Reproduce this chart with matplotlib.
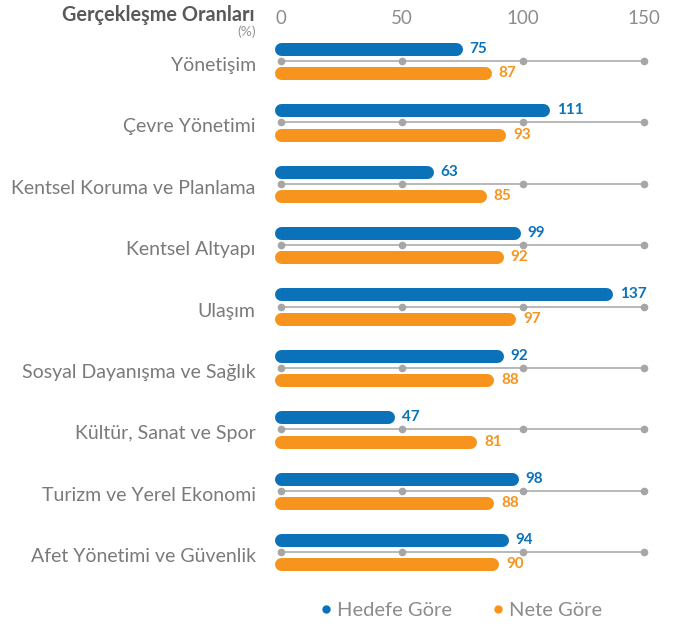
import matplotlib
matplotlib.use("Agg")
from matplotlib import pyplot as plt
from matplotlib.lines import Line2D
import numpy as np

# data
categories = [
    "Yönetişim",
    "Çevre Yönetimi",
    "Kentsel Koruma ve Planlama",
    "Kentsel Altyapı",
    "Ulaşım",
    "Sosyal Dayanışma ve Sağlık",
    "Kültür, Sanat ve Spor",
    "Turizm ve Yerel Ekonomi",
    "Afet Yönetimi ve Güvenlik",
]
hedefe_gore = [75, 111, 63, 99, 137, 92, 47, 98, 94]
nete_gore = [87, 93, 85, 92, 97, 88, 81, 88, 90]
ticks = [0, 50, 100, 150]

BLUE = "#0B72BA"
ORANGE = "#F7941D"
GRID = "#B3B3B3"
TEXT = "#7A7A7A"

plt.rcParams["font.family"] = ["Lato", "DejaVu Sans"]

W, H = 674, 626
fig = plt.figure(figsize=(W / 100, H / 100), dpi=100)
# axes placed so that 0..150 spans the plotting band
x0_px, x150_px = 280.7, 644
ax_top, ax_bot = 30, 590
ax = fig.add_axes([x0_px / W, 1 - ax_bot / H, (x150_px - x0_px) / W, (ax_bot - ax_top) / H])
step = 61.4
ax.set_xlim(0, 150)
ax.set_ylim((ax_bot - 61) / step, -(61 - ax_top) / step)
for s in ax.spines.values():
    s.set_visible(False)

y = np.arange(len(categories))
off = 0.2
bar_px = 13
lw = bar_px * 72 / 100  # bar thickness in points
# half the thickness in data units, so the rounded end stops at the value
cap = (bar_px / 2) / ((x150_px - x0_px) / 150)

# grey guide line with dots under each pair of bars
for yi in y:
    ax.plot([0, 150], [yi, yi], color=GRID, lw=1.3, zorder=1, clip_on=False)
    ax.plot(ticks, [yi] * len(ticks), "o", color="#A6A6A6", ms=4.5, zorder=2,
            clip_on=False)

ax.hlines(y - off, 0, np.array(hedefe_gore) - cap, color=BLUE, lw=lw,
          capstyle="round", zorder=3, clip_on=False)
ax.hlines(y + off, 0, np.array(nete_gore) - cap, color=ORANGE, lw=lw,
          capstyle="round", zorder=3, clip_on=False)

for yi, v in zip(y, hedefe_gore):
    ax.text(v + 3, yi - off, str(v), color=BLUE, fontsize=11, fontweight="bold",
            va="center", ha="left")
for yi, v in zip(y, nete_gore):
    ax.text(v + 3, yi + off, str(v), color=ORANGE, fontsize=11, fontweight="bold",
            va="center", ha="left")

# axes ticks: values on top, categories on the left
ax.xaxis.tick_top()
ax.set_xticks(ticks)
ax.set_xticklabels([str(t) for t in ticks], fontsize=13.5, color="#8C8C8C")
ax.tick_params(axis="x", length=0, pad=2)
ax.set_yticks(y + 0.05)
ax.set_yticklabels(categories, fontsize=14, color=TEXT)
ax.tick_params(axis="y", length=0, pad=18)

fig.text(255 / W, 1 - 15 / H, "Gerçekleşme Oranları", ha="right", va="center",
         fontsize=14.3, fontweight="bold", color="#58595B")
fig.text(256 / W, 1 - 32 / H, "(%)", ha="right", va="center", fontsize=10,
         color="#959595")

handles = [
    Line2D([], [], ls="", marker="o", ms=5, color=BLUE, label="Hedefe Göre"),
    Line2D([], [], ls="", marker="o", ms=5, color=ORANGE, label="Nete Göre"),
]
leg = fig.legend(handles=handles, loc="center", bbox_to_anchor=(459 / W, 1 - 610 / H),
                 ncol=2, frameon=False, fontsize=14.5, handletextpad=0.05,
                 columnspacing=1.8, handlelength=1.0)
for t in leg.get_texts():
    t.set_color("#8C8C8C")

fig.savefig("out.png", dpi=100)
